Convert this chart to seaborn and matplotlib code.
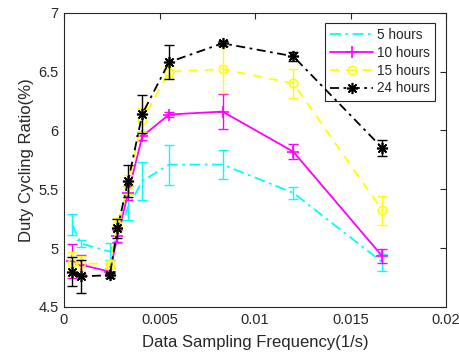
import numpy as np
import pandas as pd
import seaborn as sns
import matplotlib
matplotlib.use("Agg")
import matplotlib.pyplot as plt

# Data sampling frequencies (1/s)
freq = [0.00044, 0.00088, 0.0024, 0.0028, 0.00336, 0.0041, 0.0055, 0.0083, 0.0120, 0.01667]

labels = ["5 hours", "10 hours", "15 hours", "24 hours"]

y_5h = [5.20, 5.04, 4.97, 5.10, 5.35, 5.57, 5.71, 5.71, 5.47, 4.88]
e_5h = [0.09, 0.03, 0.07, 0.06, 0.11, 0.16, 0.17, 0.125, 0.05, 0.07]

y_10h = [4.89, 4.86, 4.80, 5.10, 5.47, 5.95, 6.135, 6.16, 5.82, 4.93]
e_10h = [0.145, 0.08, 0.03, 0.05, 0.06, 0.035, 0.02, 0.15, 0.065, 0.06]

y_15h = [4.87, 4.87, 4.865, 5.20, 5.54, 6.09, 6.50, 6.52, 6.40, 5.32]
e_15h = [0.10, 0.06, 0.03, 0.06, 0.08, 0.10, 0.05, 0.205, 0.125, 0.125]

y_24h = [4.80, 4.76, 4.77, 5.17, 5.57, 6.14, 6.58, 6.74, 6.63, 5.85]
e_24h = [0.125, 0.14, 0.02, 0.08, 0.135, 0.16, 0.145, 0.02, 0.04, 0.07]

xticks = [0, 0.005, 0.01, 0.015, 0.02]
xticklabels = ["0", "0.005", "0.01", "0.015", "0.02"]
yticks = [4.5, 5, 5.5, 6, 6.5, 7]
yticklabels = ["4.5", "5", "5.5", "6", "6.5", "7"]

sns.set_theme(style="white")
plt.rcParams["font.family"] = ["Liberation Sans", "DejaVu Sans"]

fig = plt.figure(figsize=(4.59, 3.6), dpi=100)
ax = fig.add_axes([64 / 459, 1 - 307 / 360, (446 - 64) / 459, (307 - 12.7) / 360])

dark = (0.15, 0.15, 0.15)
asterisk = (8, 2, 0)
series = [
    (labels[0], y_5h, e_5h, (0, 1, 1), (0, (6, 2.5, 1.5, 2.5)), "", 0),
    (labels[1], y_10h, e_10h, (1, 0, 1), "-", "+", 9),
    (labels[2], y_15h, e_15h, (1, 1, 0), (0, (5, 4)), "o", 6),
    (labels[3], y_24h, e_24h, (0, 0, 0), (0, (5, 2.5, 1.5, 2.5)), asterisk, 8),
]

for i, (lab, yv, ev, col, ls, mk, ms) in enumerate(series):
    df = pd.DataFrame({"freq": freq, "ratio": yv})
    ax.errorbar(freq, yv, yerr=ev, fmt="none", ecolor=col, elinewidth=1.0,
                capsize=3.5, capthick=1.0, zorder=2 + i)
    kw = dict(color=col, linestyle=ls, linewidth=1.3, label=lab, zorder=3 + i)
    if mk:
        kw.update(marker=mk, markersize=ms, markeredgecolor=col,
                  markeredgewidth=1.2, markerfacecolor="none")
    sns.lineplot(data=df, x="freq", y="ratio", ax=ax, errorbar=None, sort=True, **kw)

ax.set_xlim(0, 0.02)
ax.set_ylim(4.5, 7)
ax.set_xticks(xticks)
ax.set_xticklabels(xticklabels)
ax.set_yticks(yticks)
ax.set_yticklabels(yticklabels)
ax.tick_params(axis="both", which="both", direction="in", length=4, width=0.8,
               top=True, right=True, labelsize=10.5, colors=dark, pad=4)
for sp in ax.spines.values():
    sp.set_visible(True)
    sp.set_color(dark)
    sp.set_linewidth(0.8)

ax.set_xlabel("Data Sampling Frequency(1/s)", fontsize=12, color=dark, labelpad=6)
ax.set_ylabel("Duty Cycling Ratio(%)", fontsize=12, color=dark, labelpad=3)

leg = ax.legend(loc="upper right", bbox_to_anchor=(0.986, 0.985), fontsize=9.8,
                frameon=True, fancybox=False, framealpha=1, edgecolor=dark,
                handlelength=3.1, handletextpad=0.3, labelspacing=0.28,
                borderpad=0.4, borderaxespad=0.4, numpoints=1)
leg.get_frame().set_linewidth(0.8)
for t in leg.get_texts():
    t.set_color(dark)

fig.savefig("out.png", dpi=100)
